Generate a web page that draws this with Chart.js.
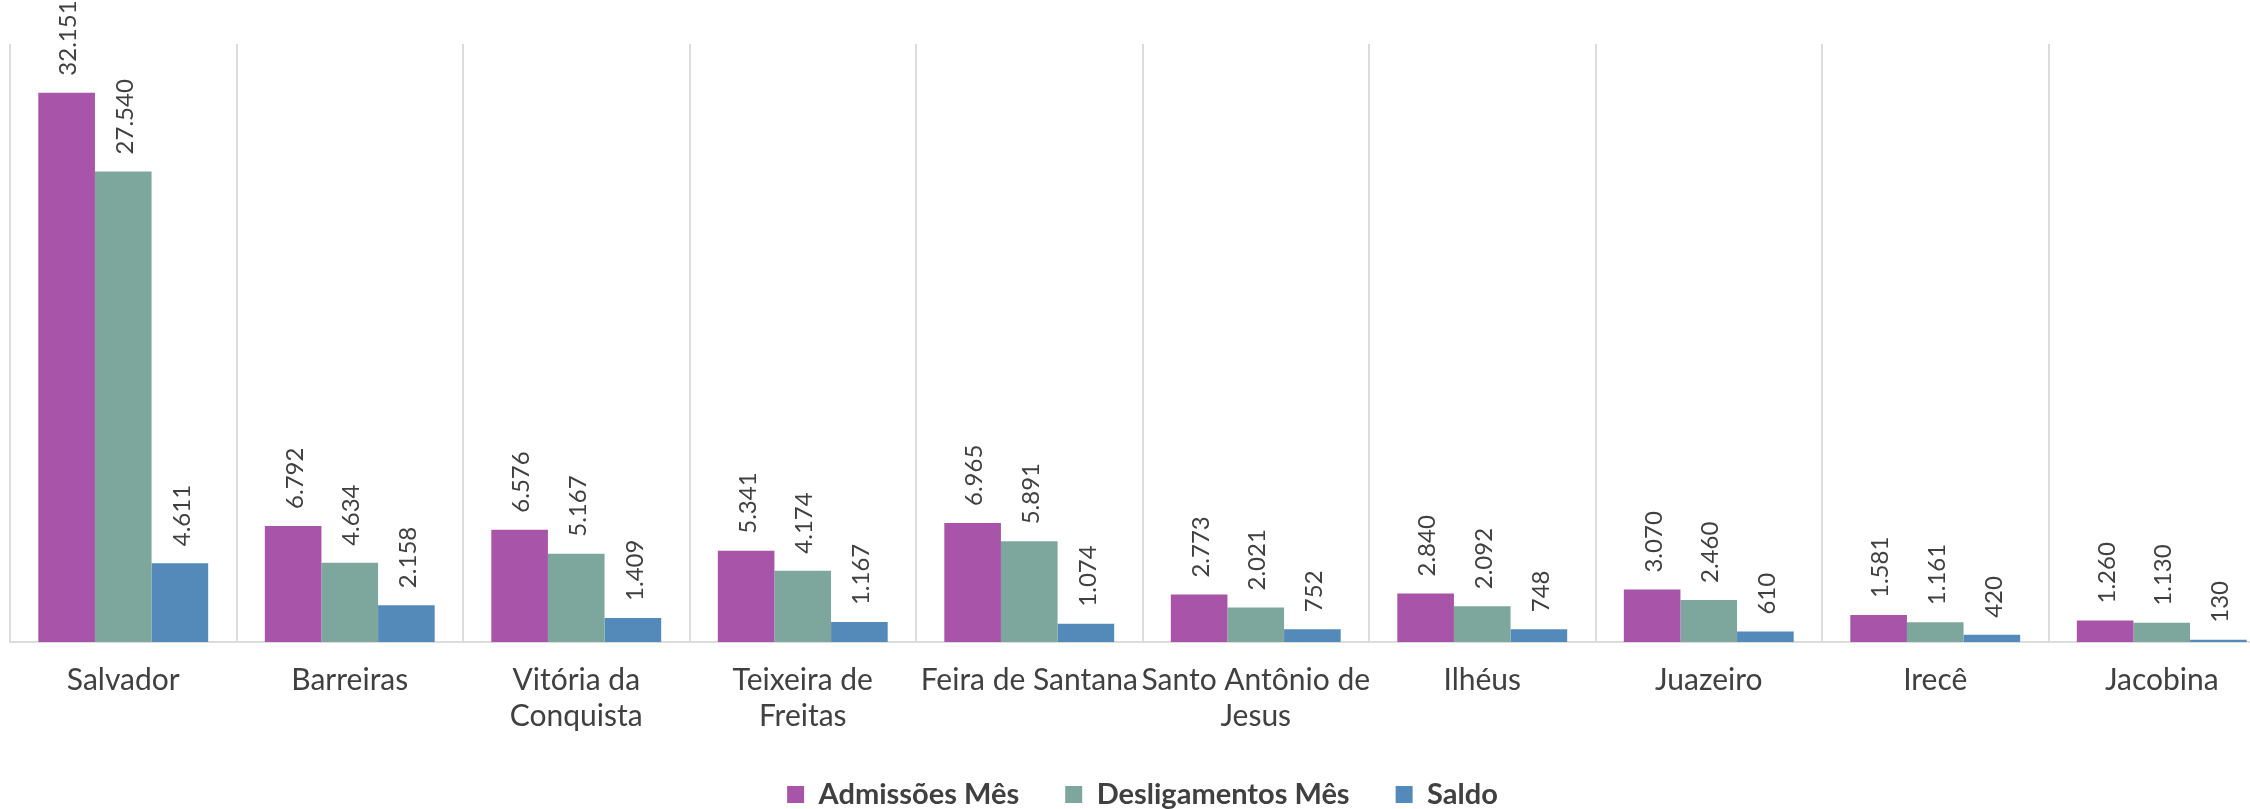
<!DOCTYPE html>
<html lang="pt-BR">
<head>
<meta charset="UTF-8">
<title>Admissões e desligamentos por município</title>
<style>
  html, body { margin: 0; padding: 0; background: #fff; overflow: hidden; }
  #wrap { width: 2250px; height: 809px; overflow: hidden; }
  #chart { display: block; }
</style>
<script src="https://cdn.jsdelivr.net/npm/chart.js"></script>
</head>
<body>
<div id="wrap"><canvas id="chart" width="2275" height="819"></canvas></div>
<script>
// municipios (rotulos em duas linhas quando o Excel quebrava o texto)
const municipios = [
  'Salvador',
  'Barreiras',
  ['Vitória da', 'Conquista'],
  ['Teixeira de', 'Freitas'],
  'Feira de Santana',
  ['Santo Antônio de', 'Jesus'],
  'Ilhéus',
  'Juazeiro',
  'Irecê',
  'Jacobina'
];
const admissoes     = [32151, 6792, 6576, 5341, 6965, 2773, 2840, 3070, 1581, 1260];
const desligamentos = [27540, 4634, 5167, 4174, 5891, 2021, 2092, 2460, 1161, 1130];
const saldo         = [4611, 2158, 1409, 1167, 1074, 752, 748, 610, 420, 130];
const nomesSeries = ['Admissões Mês', 'Desligamentos Mês', 'Saldo'];
const yMax = 35000;

const corTexto = '#404040';
const fonte = 'Lato, "Open Sans", sans-serif';

function formatar(n) {
  return String(n).replace(/\B(?=(\d{3})+(?!\d))/g, '.');
}

// rotulos de dados verticais acima das barras
const rotuloBarras = {
  id: 'rotuloBarras',
  afterDatasetsDraw(chart) {
    const ctx = chart.ctx;
    ctx.save();
    ctx.font = '24px ' + fonte;
    ctx.fillStyle = corTexto;
    ctx.textAlign = 'left';
    ctx.textBaseline = 'middle';
    chart.data.datasets.forEach((ds, i) => {
      chart.getDatasetMeta(i).data.forEach((bar, j) => {
        ctx.save();
        ctx.translate(bar.x + 2, bar.y - 17);
        ctx.rotate(-Math.PI / 2);
        ctx.fillText(formatar(ds.data[j]), 0, 0);
        ctx.restore();
      });
    });
    ctx.restore();
  }
};

function desenhar() {
  new Chart(document.getElementById('chart'), {
    type: 'bar',
    data: {
      labels: municipios,
      datasets: [
        { label: nomesSeries[0], data: admissoes, backgroundColor: '#A854A8' },
        { label: nomesSeries[1], data: desligamentos, backgroundColor: '#7DA79C' },
        { label: nomesSeries[2], data: saldo, backgroundColor: '#548AB9' }
      ]
    },
    options: {
      responsive: false,
      animation: false,
      layout: { padding: { top: 44, left: 10, right: 0, bottom: 0 } },
      datasets: {
        bar: { barPercentage: 1, categoryPercentage: 0.75 }
      },
      scales: {
        x: {
          grid: { color: '#dcdcdc', lineWidth: 2, drawTicks: false },
          border: { color: '#dcdcdc', width: 2 },
          ticks: {
            color: corTexto,
            font: { family: fonte, size: 30, lineHeight: 1.2 },
            padding: 20,
            maxRotation: 0,
            autoSkip: false
          },
          afterFit(scale) { scale.height = 92; }
        },
        y: {
          display: false,
          min: 0,
          max: yMax
        }
      },
      plugins: {
        legend: {
          position: 'bottom',
          labels: {
            color: corTexto,
            font: { family: fonte, size: 29, weight: 'bold' },
            boxWidth: 17,
            boxHeight: 17,
            padding: 46
          }
        },
        tooltip: { enabled: false }
      }
    },
    plugins: [rotuloBarras]
  });
}

Promise.all([
  document.fonts.load('24px Lato'),
  document.fonts.load('bold 29px Lato')
]).then(desenhar, desenhar);
</script>
</body>
</html>
